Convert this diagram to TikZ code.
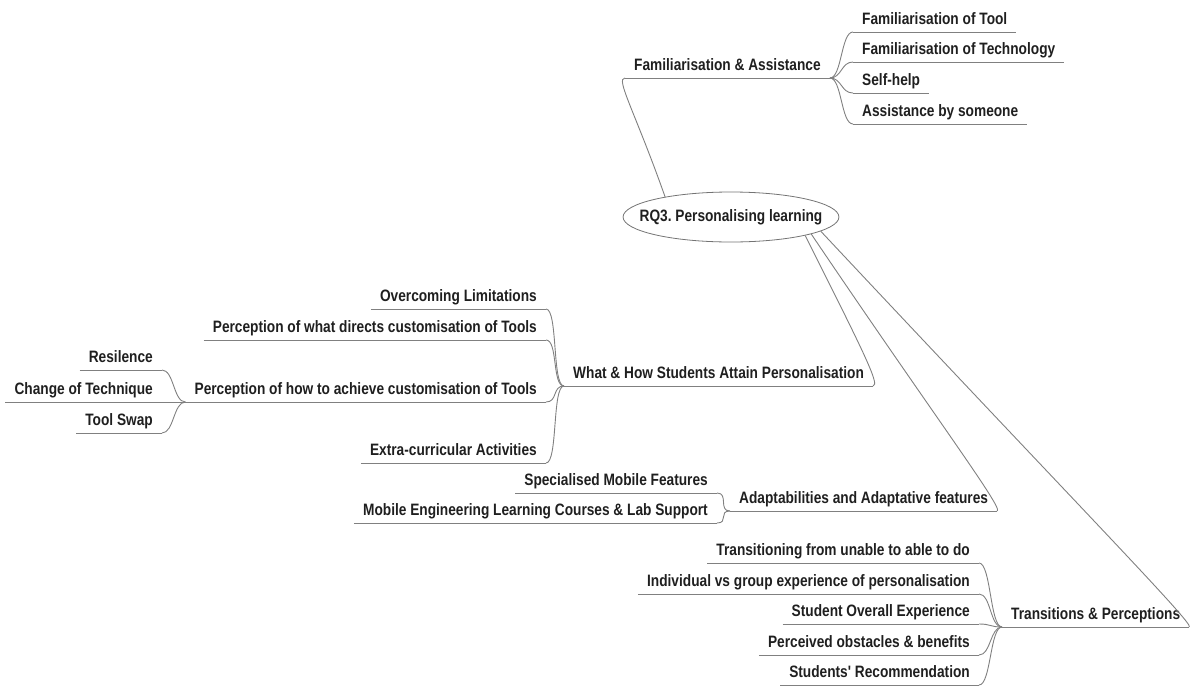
\documentclass[tikz,border=0pt]{standalone}
\usepackage{fontspec}
\newfontfamily\mapfont{Liberation Sans}[FakeStretch=0.83]
\usetikzlibrary{shapes.geometric}
\frenchspacing

\begin{document}
\begin{tikzpicture}[
  x=1pt,y=1pt,
  font=\mapfont\bfseries\fontsize{16.5}{19}\selectfont,
  topic/.style={inner xsep=9pt,inner ysep=4pt,text depth=3pt,text=black!88},
  rtopic/.style={topic,anchor=south west},
  ltopic/.style={topic,anchor=south east},
  rootnode/.style={ellipse,draw=black!55,line width=0.8pt,inner xsep=-15pt,inner ysep=0pt,minimum height=50pt,text=black!88},
  branch/.style={draw=black!50,line width=0.9pt}
]
\useasboundingbox (0,0) rectangle (1203,-686);

\node[rootnode] (rq) at (731,-217) {RQ3. Personalising learning};

\node[rtopic] (fam)      at (625,-78)  {Familiarisation \& Assistance};
\node[rtopic] (famtool)  at (853,-32)  {Familiarisation of Tool};
\node[rtopic] (famtech)  at (853,-62)  {Familiarisation of Technology};
\node[rtopic] (selfhelp) at (853,-93)  {Self-help};
\node[rtopic] (assist)   at (853,-124) {Assistance by someone};

\node[rtopic] (whathow)  at (564,-386) {What \& How Students Attain Personalisation};
\node[ltopic] (overcome) at (546,-309) {Overcoming Limitations};
\node[ltopic] (pwhat)    at (546,-340) {Perception of what directs customisation of Tools};
\node[ltopic] (phow)     at (546,-402) {Perception of how to achieve customisation of Tools};
\node[ltopic] (extra)    at (546,-463) {Extra-curricular Activities};
\node[ltopic] (resil)    at (162,-370) {Resilence};
\node[ltopic] (change)   at (162,-402) {Change of Technique};
\node[ltopic] (swap)     at (162,-433) {Tool Swap};

\node[rtopic] (adapt)    at (730,-511) {Adaptabilities and Adaptative features};
\node[ltopic] (special)  at (717,-493) {Specialised Mobile Features};
\node[ltopic] (mobile)   at (717,-523) {Mobile Engineering Learning Courses \& Lab Support};

\node[rtopic] (trans)     at (1002,-627) {Transitions \& Perceptions};
\node[ltopic] (transit)   at (979,-563)  {Transitioning from unable to able to do};
\node[ltopic] (indiv)     at (979,-594)  {Individual vs group experience of personalisation};
\node[ltopic] (overall)   at (979,-624)  {Student Overall Experience};
\node[ltopic] (obstacles) at (979,-655)  {Perceived obstacles \& benefits};
\node[ltopic] (recommend) at (979,-685)  {Students' Recommendation};

\foreach \n in {fam,famtool,famtech,selfhelp,assist,whathow,overcome,pwhat,phow,extra,resil,change,swap,adapt,special,mobile,trans,transit,indiv,overall,obstacles,recommend}
  \draw[branch] (\n.south west) -- (\n.south east);

\draw[branch] (rq.163) .. controls +(-30,85) and +(-10,0) .. (fam.south west);
\draw[branch] (rq.-14) .. controls +(55,-110) and +(8,0) .. (whathow.south east);
\draw[branch] (rq.-12) .. controls +(125,-185) and +(6,3) .. (adapt.south east);
\draw[branch] (rq.-9) .. controls +(255,-272) and +(5,3) .. (trans.south east);

\foreach \c in {famtool,famtech,selfhelp,assist}
  \draw[branch] (fam.south east) .. controls +(12,0) and +(-12,0) .. (\c.south west);
\foreach \c in {overcome,pwhat,phow,extra}
  \draw[branch] (whathow.south west) .. controls +(-12,0) and +(12,0) .. (\c.south east);
\foreach \c in {resil,change,swap}
  \draw[branch] (phow.south west) .. controls +(-12,0) and +(12,0) .. (\c.south east);
\foreach \c in {special,mobile}
  \draw[branch] (adapt.south west) .. controls +(-12,0) and +(12,0) .. (\c.south east);
\foreach \c in {transit,indiv,overall,obstacles,recommend}
  \draw[branch] (trans.south west) .. controls +(-12,0) and +(12,0) .. (\c.south east);
\end{tikzpicture}
\end{document}
